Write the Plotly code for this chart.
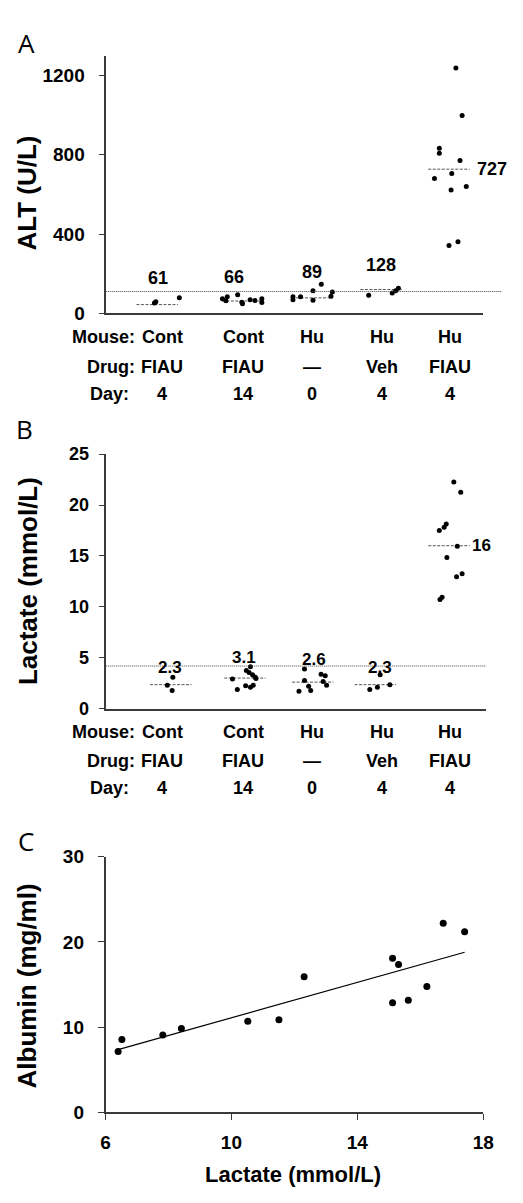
import plotly.graph_objects as go
import numpy as np

W, H = 523, 1203

# ---------------- data ----------------
mouse_labels = ["Cont", "Cont", "Hu", "Hu", "Hu"]
drug_labels = ["FIAU", "FIAU", "—", "Veh", "FIAU"]
day_labels = ["4", "14", "0", "4", "4"]

# Panel A: ALT (U/L) per group
alt_g0 = [52, 58, 78]
alt_g1 = [73, 63, 84, 93, 56, 48, 68, 64, 73, 54]
alt_g2 = [83, 69, 83, 114, 66, 147, 107, 86]
alt_g3 = [91, 102, 114, 127]
alt_g4 = [1238, 998, 832, 808, 771, 705, 680, 622, 640, 342, 361]
alt_group_line = [44, 62, 78, 120, 727]
alt_mean_text = ["61", "66", "89", "128", "727"]
alt_threshold = 110

# Panel B: Lactate (mmol/L)
lac_g0 = [3.09, 2.29, 1.77]
lac_g1 = [2.9, 1.87, 2.25, 3.74, 3.55, 4.12, 3.32, 3.09, 2.29, 2.1, 2.95]
lac_g2 = [3.9, 2.77, 1.71, 2.19, 1.77, 3.38, 3.22, 2.67, 2.29]
lac_g3 = [1.87, 2.1, 2.35, 3.32]
lac_g4 = [22.25, 21.26, 18.13, 17.81, 17.49, 15.94, 14.85, 13.24, 12.95, 10.95, 10.72]
lac_group_line = [2.35, 3.0, 2.6, 2.35, 16.0]
lac_mean_text = ["2.3", "3.1", "2.6", "2.3", "16"]
lac_threshold = 4.18

# Panel C: Lactate vs Albumin
c_lactate = [6.40, 6.52, 7.82, 8.41, 10.52, 11.51, 12.31, 15.12, 15.31, 15.12, 15.62, 16.21, 16.73, 17.41]
c_albumin = [7.14, 8.56, 9.07, 9.83, 10.68, 10.87, 15.9, 18.09, 17.36, 12.87, 13.17, 14.78, 22.2, 21.2]

# ---------------- layout helpers (positions / jitter) ----------------
def px_x(p):
    return p / W

def px_y(p):
    return 1 - p / H

U0, UPX = 102.4, 71.3  # category unit mapping in pixels
def u(p):
    return (p - U0) / UPX

centers_a = [u(157), u(245), u(317), u(388), u(458)]
centers_b = [u(171), u(247.5), u(317.5), u(382), u(458)]
jit_a = [
    [-0.04, -0.02, 0.32],
    [-0.29, -0.24, -0.22, -0.07, -0.01, 0.0, 0.11, 0.18, 0.28, 0.28],
    [-0.28, -0.28, -0.17, 0.01, 0.01, 0.13, 0.29, 0.27],
    [-0.18, 0.16, 0.21, 0.25],
    [0.10, 0.19, -0.14, -0.14, 0.16, 0.04, -0.21, 0.03, 0.25, 0.00, 0.13],
]
jit_b = [
    [0.03, -0.05, 0.02],
    [-0.18, -0.11, 0.01, 0.02, 0.06, 0.08, 0.11, 0.15, 0.12, 0.08, 0.16],
    [-0.12, -0.12, -0.20, -0.06, -0.03, 0.12, 0.18, 0.15, 0.20],
    [-0.08, 0.03, 0.21, 0.07],
    [0.07, 0.17, -0.04, -0.07, -0.14, 0.12, -0.03, 0.19, 0.11, -0.10, -0.13],
]
alt_groups = [alt_g0, alt_g1, alt_g2, alt_g3, alt_g4]
lac_groups = [lac_g0, lac_g1, lac_g2, lac_g3, lac_g4]

FONT = "Liberation Sans, Arial, sans-serif"
AX = "#3a3a3a"
HALF = 0.3

fig = go.Figure()

def strip(groups, centers, jits, xa, ya):
    xs, ys = [], []
    for g, vals in enumerate(groups):
        for v, j in zip(vals, jits[g]):
            xs.append(centers[g] + j)
            ys.append(v)
    fig.add_trace(go.Scatter(x=xs, y=ys, mode="markers", xaxis=xa, yaxis=ya,
                             marker=dict(size=5, color="black"), showlegend=False,
                             cliponaxis=False))

def mean_lines(vals, centers, xa, ya):
    xs, ys = [], []
    for c, m in zip(centers, vals):
        xs += [c - HALF, c + HALF, None]
        ys += [m, m, None]
    fig.add_trace(go.Scatter(x=xs, y=ys, mode="lines", xaxis=xa, yaxis=ya,
                             line=dict(color="#555", width=1, dash="3px,1.5px"),
                             showlegend=False))

mean_lines(alt_group_line, centers_a, "x", "y")
strip(alt_groups, centers_a, jit_a, "x", "y")
mean_lines(lac_group_line, centers_b, "x2", "y2")
strip(lac_groups, centers_b, jit_b, "x2", "y2")

# Panel C
fig.add_trace(go.Scatter(x=c_lactate, y=c_albumin, mode="markers", xaxis="x3", yaxis="y3",
                         marker=dict(size=7, color="black"), showlegend=False, cliponaxis=False))
slope, icpt = np.polyfit(c_lactate, c_albumin, 1)
lx = np.array([min(c_lactate), max(c_lactate)])
fig.add_trace(go.Scatter(x=lx, y=slope * lx + icpt, mode="lines", xaxis="x3", yaxis="y3",
                         line=dict(color="black", width=1.2), showlegend=False))

# axes
A_L, A_R = 104.5, 493.0
A_T, A_B = 46.4, 308.7
B_L, B_R = 104.5, 495.7
B_T, B_B = 452.0, 711.0
C_L, C_R = 103.7, 493.3
C_T, C_B = 861.7, 1122.0

common_axis = dict(showline=True, linecolor=AX, linewidth=1.5, showgrid=False, zeroline=False,
                   ticks="outside", ticklen=6, tickwidth=1.3, tickcolor=AX)

layout = dict(
    width=W, height=H, margin=dict(l=0, r=0, t=0, b=0),
    paper_bgcolor="white", plot_bgcolor="white",
    font=dict(family=FONT, color="black"),
    xaxis=dict(domain=[px_x(A_L), px_x(A_R)], range=[u(A_L), u(A_R)], anchor="y",
               showline=True, linecolor=AX, linewidth=1.5, showgrid=False, zeroline=False,
               showticklabels=False, ticks=""),
    yaxis=dict(domain=[px_y(A_B), px_y(A_T)], range=[0, 1300], anchor="x",
               tickvals=[0, 400, 800, 1200], ticklabelstandoff=10,
               tickfont=dict(size=19, family=FONT, weight="bold"), **common_axis),
    xaxis2=dict(domain=[px_x(B_L), px_x(B_R)], range=[u(B_L), u(B_R)], anchor="y2",
                showline=True, linecolor=AX, linewidth=1.5, showgrid=False, zeroline=False,
                showticklabels=False, ticks=""),
    yaxis2=dict(domain=[px_y(B_B), px_y(B_T)], range=[0, 25], anchor="x2",
                tickvals=[0, 5, 10, 15, 20, 25], ticklabelstandoff=6,
                tickfont=dict(size=18, family=FONT, weight="bold"), **common_axis),
    xaxis3=dict(domain=[px_x(C_L), px_x(C_R)], range=[6, 18], anchor="y3",
                tickvals=[6, 10, 14, 18], ticklabelstandoff=6,
                tickfont=dict(size=19, family=FONT, weight="bold"), **common_axis),
    yaxis3=dict(domain=[px_y(C_B), px_y(C_T)], range=[0, 30], anchor="x3",
                tickvals=[0, 10, 20, 30], ticklabelstandoff=10,
                tickfont=dict(size=19, family=FONT, weight="bold"), **common_axis),
)
fig.update_layout(**layout)

# threshold dotted lines
fig.add_shape(type="line", xref="x domain", yref="y domain", x0=0, x1=(513 - A_L) / (A_R - A_L),
              y0=alt_threshold / 1300, y1=alt_threshold / 1300,
              line=dict(color="#444", width=1, dash="1px,1px"))
fig.add_shape(type="line", xref="x2 domain", yref="y2", x0=0, x1=1,
              y0=lac_threshold, y1=lac_threshold,
              line=dict(color="#444", width=1, dash="1px,1px"))

ann = []
bold = dict(family=FONT, color="black", weight="bold")

# mean value labels A
a_lab_pos = [(u(158), 178), (u(236), 182), (u(317), 208), (u(388), 245)]
for (x, y), t in zip(a_lab_pos, alt_mean_text[:4]):
    ann.append(dict(x=x, y=y, xref="x", yref="y", text=t, showarrow=False,
                    font=dict(size=18, **bold)))
ann.append(dict(x=u(485), y=alt_group_line[4], xref="x", yref="y", text=alt_mean_text[4],
                showarrow=False, xanchor="left", font=dict(size=18, **bold)))
# mean value labels B
b_lab_pos = [(u(170.7), 4.03), (u(246.7), 5.0), (u(318.3), 4.86), (u(386.7), 4.03)]
for (x, y), t in zip(b_lab_pos, lac_mean_text[:4]):
    ann.append(dict(x=x, y=y, xref="x2", yref="y2", text=t, showarrow=False,
                    font=dict(size=17, **bold)))
ann.append(dict(x=u(480), y=lac_group_line[4], xref="x2", yref="y2", text=lac_mean_text[4],
                showarrow=False, xanchor="left", font=dict(size=17, **bold)))

# category rows
cat_x = [162, 246, 317, 389, 459]
for rows_y in ([333, 363, 391], [735, 764, 792]):
    for row_txt, row_right, ry, labels in zip(["Mouse:", "Drug:", "Day:"], [136, 136, 130], rows_y,
                                              [mouse_labels, drug_labels, day_labels]):
        ann.append(dict(x=px_x(row_right), y=px_y(ry), xref="paper", yref="paper", text=row_txt,
                        xanchor="right", yanchor="middle", showarrow=False, font=dict(size=18, **bold)))
        for cx, lab in zip(cat_x, labels):
            ann.append(dict(x=px_x(cx), y=px_y(ry), xref="paper", yref="paper", text=lab,
                            xanchor="center", yanchor="middle", showarrow=False,
                            font=dict(size=18, **bold)))

# axis titles
for txt, cx, cy in [("ALT (U/L)", 22.5, 186), ("Lactate (mmol/L)", 24, 581), ("Albumin (mg/ml)", 22.5, 993)]:
    ann.append(dict(x=px_x(cx), y=px_y(cy), xref="paper", yref="paper", text=txt, textangle=-90,
                    showarrow=False, xanchor="center", yanchor="middle", font=dict(size=26, **bold)))
ann.append(dict(x=px_x(296.7), y=px_y(1185), xref="paper", yref="paper", text="Lactate (mmol/L)",
                showarrow=False, xanchor="center", yanchor="middle", font=dict(size=22, **bold)))

# panel letters
for txt, cx, cy in [("A", 22, 34), ("B", 20, 426), ("C", 22, 846)]:
    ann.append(dict(x=px_x(cx), y=px_y(cy), xref="paper", yref="paper", text=txt, showarrow=False,
                    xanchor="center", yanchor="middle",
                    font=dict(size=26, family="Open Sans, Noto Sans, sans-serif", color="black")))

fig.update_layout(annotations=ann)
fig.write_html("out.html", config={"displayModeBar": False},
               post_script="document.body.style.margin='0';document.body.style.overflow='hidden';")
